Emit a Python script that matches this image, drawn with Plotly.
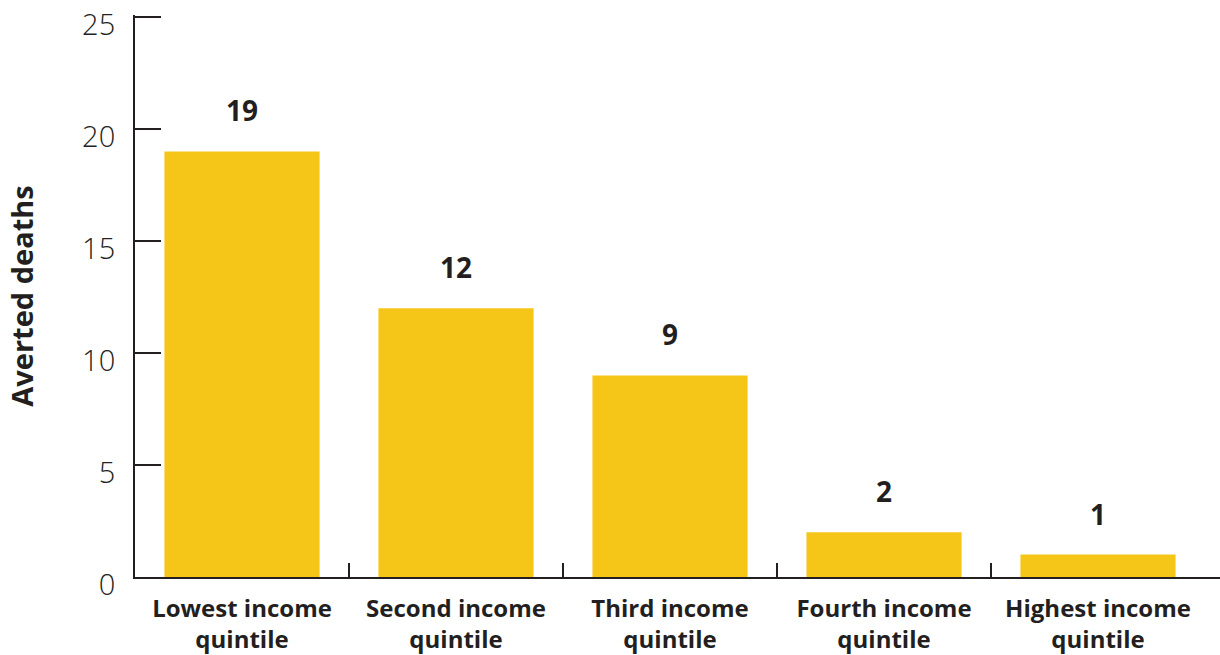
import plotly.graph_objects as go

categories = ["Lowest income<br>quintile", "Second income<br>quintile", "Third income<br>quintile",
              "Fourth income<br>quintile", "Highest income<br>quintile"]
values = [19, 12, 9, 2, 1]
y_ticks = [0, 5, 10, 15, 20, 25]

x_pos = list(range(len(categories)))
boundaries = [i + 0.5 for i in x_pos[:-1]]

BAR = "#F5C518"
INK = "#231F20"
FONT = "Open Sans"

fig = go.Figure()
fig.add_trace(go.Bar(x=x_pos, y=values, marker=dict(color=BAR, line=dict(width=0)),
                     width=0.725, hoverinfo="skip"))
# invisible trace to activate the secondary x axis for boundary ticks
fig.add_trace(go.Scatter(x=boundaries, y=[0] * len(boundaries), xaxis="x2", mode="markers",
                         marker=dict(opacity=0), hoverinfo="skip", showlegend=False))

for xi, v in zip(x_pos, values):
    fig.add_annotation(x=xi, y=v, text=f"<b>{v}</b>", showarrow=False, yanchor="middle",
                       yshift=41, font=dict(family=FONT, size=28, color=INK))

xr = [-0.5, 4.57]
fig.update_layout(
    width=1220, height=655,
    margin=dict(l=135, r=0, t=15, b=78, autoexpand=False),
    plot_bgcolor="white", paper_bgcolor="white",
    showlegend=False,
    bargap=0.275,
    xaxis=dict(range=xr, tickmode="array", tickvals=x_pos, ticktext=[f"<b>{c}</b>" for c in categories],
               ticks="", showline=True, linecolor=INK, linewidth=2, showgrid=False, zeroline=False,
               tickfont=dict(family=FONT, size=24, color=INK), ticklabelstandoff=9,
               ticklabeloverflow="allow", automargin=False, fixedrange=True),
    xaxis2=dict(range=xr, overlaying="x", tickmode="array", tickvals=boundaries,
                ticktext=[""] * len(boundaries), ticks="inside", ticklen=14, tickwidth=2,
                tickcolor=INK, showgrid=False, zeroline=False, showline=False, side="bottom",
                anchor="y", automargin=False),
    yaxis=dict(range=[0, 25.09], tickmode="array", tickvals=y_ticks, ticks="inside", ticklen=26,
               tickwidth=2, tickcolor=INK, showline=True, linecolor=INK, linewidth=2,
               showgrid=False, zeroline=False, ticklabeloverflow="allow", automargin=False,
               tickfont=dict(family=FONT, size=29, color=INK, weight=300),
               ticklabelstandoff=12, ticklabelshift=8,
               title=dict(text="<b>Averted deaths</b>", font=dict(family=FONT, size=29, color=INK),
                          standoff=40)),
)

fig.write_html("out.html")
